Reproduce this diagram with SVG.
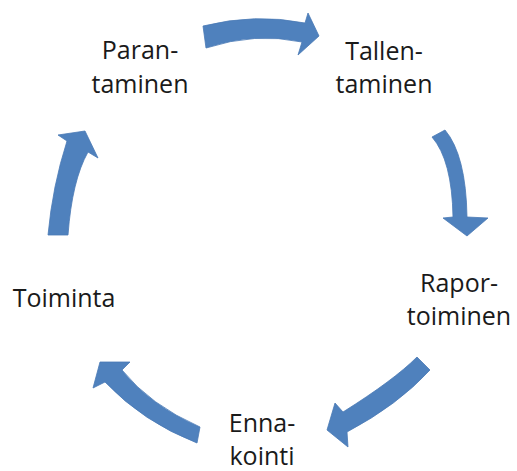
<svg xmlns="http://www.w3.org/2000/svg" width="517" height="471" viewBox="0 0 517 471">
<style>
.arrow{fill:#4f81bd;stroke:#4a7ab5;stroke-width:0.8;stroke-linejoin:miter}
.lbl{font-family:"Open Sans","Liberation Sans",sans-serif;font-size:25px;fill:#1a1a1a;text-anchor:middle}
</style>
<rect width="517" height="471" fill="#ffffff"/>
<g id="connectors">
<path class="arrow" d="M203,26 Q255,13 305,23 L308,13 L319,36 L298,55 L302,42 Q255,32 206,48 Z"/>
<path class="arrow" d="M445,130 Q466,155 467,217 L488,218 L467,236 L443,218 L453,217 Q452,160 432,137 Z"/>
<path class="arrow" d="M430,370 Q398,405 347,432 L348,447 L327,430 L335,403 L343,412 Q394,380 417,357 Z"/>
<path class="arrow" d="M200,427 Q150,405 122,370 L130,362 L100,362 L93,388 L105,382 Q143,422 197,443 Z"/>
<path class="arrow" d="M48,235 Q52.5,186 67,141 L58,135 L85,131 L98,158 L88,152 Q72,180.5 68,235 Z"/>
</g>
<g id="node-parantaminen">
<text class="lbl" x="140" y="59">Paran-</text>
<text class="lbl" x="140" y="93">taminen</text>
</g>
<g id="node-tallentaminen">
<text class="lbl" x="384" y="60">Tallen-</text>
<text class="lbl" x="384" y="93">taminen</text>
</g>
<g id="node-raportoiminen">
<text class="lbl" x="459" y="292">Rapor-</text>
<text class="lbl" x="459" y="325">toiminen</text>
</g>
<g id="node-ennakointi">
<text class="lbl" x="262" y="432">Enna-</text>
<text class="lbl" x="262" y="465">kointi</text>
</g>
<g id="node-toiminta">
<text class="lbl" x="64" y="307">Toiminta</text>
</g>
</svg>
